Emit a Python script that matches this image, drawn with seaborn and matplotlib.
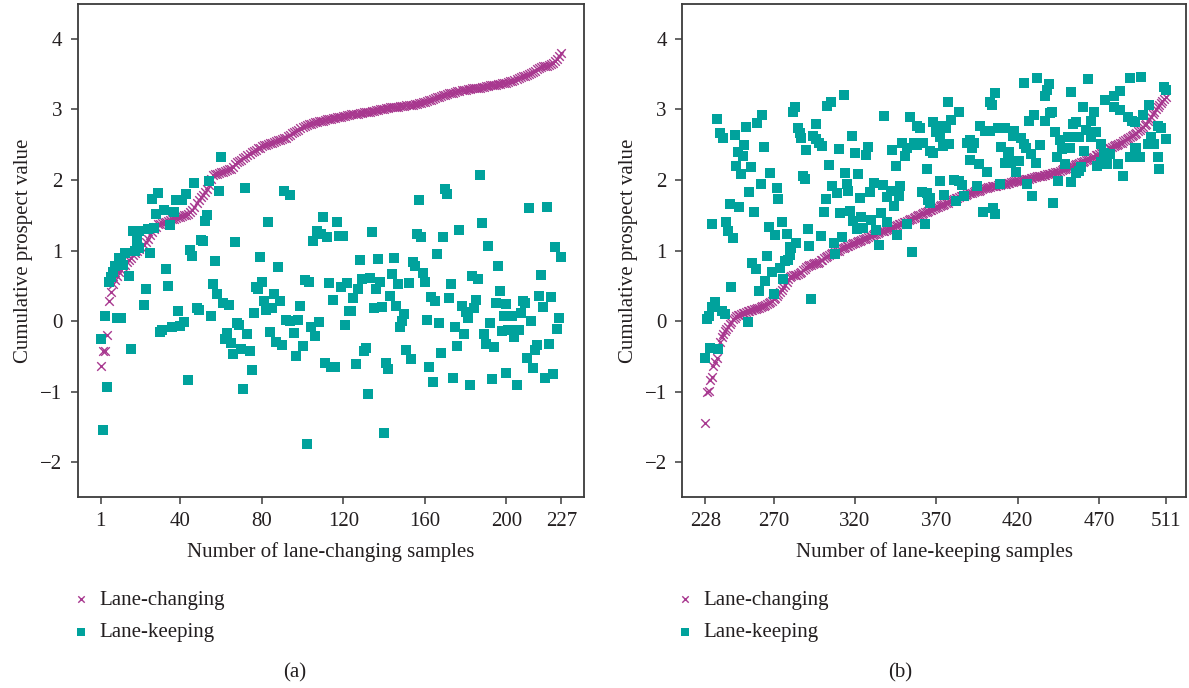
import numpy as np
import pandas as pd
import matplotlib
matplotlib.use("Agg")
import matplotlib.pyplot as plt
import seaborn as sns

sns.set_style("white")
plt.rcParams["font.family"] = ["Liberation Serif", "DejaVu Serif"]

# ---------------- data: panel (a) ----------------
lc_a = [
    -0.64, -0.43, -0.42, -0.20, 0.29, 0.41, 0.52, 0.58, 0.64, 0.69,
    0.73, 0.77, 0.80, 0.84, 0.87, 0.90, 0.93, 0.96, 0.99, 1.02,
    1.05, 1.08, 1.12, 1.17, 1.22, 1.26, 1.30, 1.34, 1.37, 1.38,
    1.39, 1.40, 1.41, 1.42, 1.43, 1.44, 1.45, 1.46, 1.47, 1.48,
    1.49, 1.50, 1.51, 1.52, 1.55, 1.58, 1.62, 1.67, 1.72, 1.76,
    1.79, 1.83, 1.87, 1.93, 2.02, 2.07, 2.08, 2.09, 2.10, 2.11,
    2.12, 2.13, 2.14, 2.15, 2.16, 2.18, 2.22, 2.25, 2.27, 2.29,
    2.31, 2.33, 2.35, 2.37, 2.39, 2.41, 2.43, 2.45, 2.46, 2.48,
    2.49, 2.50, 2.51, 2.52, 2.53, 2.54, 2.55, 2.56, 2.57, 2.58,
    2.59, 2.60, 2.62, 2.64, 2.66, 2.68, 2.70, 2.71, 2.73, 2.75,
    2.77, 2.78, 2.79, 2.80, 2.81, 2.82, 2.82, 2.83, 2.84, 2.84,
    2.85, 2.86, 2.86, 2.87, 2.88, 2.88, 2.89, 2.90, 2.90, 2.91,
    2.91, 2.92, 2.92, 2.93, 2.93, 2.94, 2.94, 2.95, 2.95, 2.96,
    2.96, 2.97, 2.97, 2.98, 2.98, 2.99, 2.99, 3.00, 3.01, 3.01,
    3.02, 3.02, 3.03, 3.03, 3.04, 3.04, 3.04, 3.05, 3.05, 3.05,
    3.06, 3.06, 3.07, 3.07, 3.08, 3.08, 3.09, 3.09, 3.10, 3.11,
    3.12, 3.13, 3.14, 3.15, 3.16, 3.17, 3.18, 3.19, 3.20, 3.21,
    3.22, 3.23, 3.24, 3.24, 3.25, 3.26, 3.26, 3.27, 3.28, 3.28,
    3.29, 3.29, 3.30, 3.30, 3.30, 3.31, 3.31, 3.32, 3.32, 3.33,
    3.33, 3.34, 3.34, 3.35, 3.35, 3.36, 3.36, 3.37, 3.38, 3.38,
    3.39, 3.40, 3.41, 3.42, 3.43, 3.45, 3.46, 3.47, 3.48, 3.49,
    3.50, 3.52, 3.53, 3.55, 3.57, 3.59, 3.60, 3.61, 3.61, 3.62,
    3.63, 3.64, 3.66, 3.69, 3.72, 3.76, 3.80,
]

lk_a_x = [
    1, 2, 3, 4, 5, 6, 7, 8, 9, 10, 11, 11, 12, 13, 15, 16, 17, 18, 19, 20,
    20, 22, 23, 24, 25, 26, 27, 28, 29, 30, 31, 32, 33, 34, 35, 36, 37, 38, 39, 40,
    41, 42, 43, 44, 45, 46, 47, 48, 49, 50, 51, 52, 53, 54, 55, 56, 57, 58, 59, 60,
    61, 62, 63, 64, 65, 66, 67, 68, 69, 70, 71, 72, 73, 74, 75, 76, 77, 78, 79, 80,
    81, 82, 83, 84, 85, 86, 87, 88, 89, 90, 91, 92, 94, 94, 96, 97, 98, 99, 100, 101,
    102, 103, 104, 105, 106, 107, 108, 109, 110, 111, 112, 113, 114, 115, 116, 117, 118, 119, 120, 121,
    122, 123, 124, 125, 126, 127, 128, 129, 130, 131, 132, 133, 134, 135, 136, 137, 138, 139, 140, 141,
    142, 143, 144, 145, 146, 147, 148, 149, 150, 151, 152, 153, 154, 155, 156, 157, 158, 159, 160, 161,
    162, 163, 164, 165, 166, 167, 168, 169, 170, 171, 172, 173, 174, 175, 176, 177, 178, 179, 180, 181,
    182, 183, 184, 185, 186, 187, 188, 189, 190, 191, 192, 193, 194, 195, 196, 197, 198, 199, 200, 200,
    201, 202, 203, 204, 205, 206, 207, 208, 209, 210, 211, 212, 213, 214, 215, 216, 217, 218, 219, 220,
    221, 222, 223, 224, 225, 226, 227,
]
lk_a_y = [
    -0.26, -1.55, 0.07, -0.93, 0.56, 0.63, 0.70, 0.78, 0.04, 0.89, 0.82, 0.05, 0.79, 0.96, 0.64, -0.40, 1.27, 0.99, 1.14, 1.27,
    1.03, 0.23, 0.46, 1.30, 0.96, 1.73, 1.32, 1.52, 1.82, -0.16, -0.12, 1.57, 0.74, 0.50, 1.36, -0.09, 1.54, 1.71, 0.14, -0.07,
    1.71, -0.01, 1.80, -0.84, 1.01, 0.92, 1.96, 0.19, 0.16, 1.15, 1.13, 1.42, 1.50, 1.99, 0.07, 0.52, 0.85, 0.39, 1.85, 2.32,
    0.26, -0.25, -0.17, 0.23, -0.31, -0.47, 1.12, -0.03, -0.05, -0.39, -0.97, 1.89, -0.18, -0.43, -0.70, 0.12, 0.48, 0.45, 0.91, 0.56,
    0.29, 0.15, 1.40, -0.15, 0.18, 0.38, -0.30, 0.77, 0.28, -0.34, 1.85, 0.02, 1.79, 0.00, -0.17, -0.50, 0.02, 0.21, -0.35, 0.58,
    -1.74, 0.56, -0.08, 1.14, -0.21, 1.28, -0.02, 1.24, 1.48, -0.60, 1.19, 0.54, -0.65, 0.30, -0.65, 1.41, 1.20, 0.48, 1.21, -0.05,
    0.54, 0.14, 0.14, 0.32, -0.61, 0.45, 0.86, 0.60, -0.42, -0.38, -1.03, 0.61, 1.26, 0.18, 0.46, 0.88, 0.56, 0.20, -1.58, -0.59,
    -0.68, 0.35, 0.67, 0.90, 0.22, 0.53, -0.08, 0.00, 0.10, -0.41, 0.54, -0.54, 0.84, 0.78, 1.23, 1.72, 1.19, 0.68, 0.56, 0.02,
    -0.65, 0.34, -0.87, 0.29, 0.95, -0.03, -0.45, 1.19, 1.87, 1.80, 0.32, 0.53, -0.81, -0.09, -0.35, 1.29, 0.21, -0.19, 0.13, 0.05,
    -0.91, 0.64, 0.18, 0.30, 0.60, 2.07, 1.39, -0.18, -0.33, 1.07, -0.03, -0.82, -0.37, 0.25, 0.78, 0.43, -0.14, 0.07, 0.24, -0.74,
    -0.13, -0.12, 0.07, -0.22, -0.90, -0.12, 0.11, 0.29, 0.25, -0.53, 1.60, 0.00, -0.66, -0.41, -0.34, 0.36, 0.66, 0.20, -0.81, 1.61,
    -0.32, 0.34, -0.75, 1.05, -0.11, 0.05, 0.91,
]

# ---------------- data: panel (b) ----------------
lc_b = [
    -1.44, -1.00, -0.99, -0.84, -0.80, -0.64, -0.58, -0.52, -0.40, -0.30,
    -0.23, -0.18, -0.14, -0.11, -0.08, -0.04, -0.01, 0.03, 0.05, 0.07,
    0.08, 0.09, 0.10, 0.11, 0.12, 0.13, 0.14, 0.14, 0.15, 0.16,
    0.17, 0.17, 0.18, 0.19, 0.20, 0.21, 0.22, 0.23, 0.24, 0.26,
    0.27, 0.29, 0.31, 0.32, 0.35, 0.38, 0.41, 0.44, 0.48, 0.51,
    0.55, 0.59, 0.63, 0.64, 0.65, 0.66, 0.66, 0.67, 0.68, 0.70,
    0.72, 0.74, 0.77, 0.78, 0.79, 0.80, 0.81, 0.82, 0.83, 0.83,
    0.84, 0.86, 0.87, 0.89, 0.91, 0.92, 0.94, 0.95, 0.96, 0.97,
    0.98, 0.99, 1.00, 1.02, 1.03, 1.04, 1.05, 1.06, 1.07, 1.08,
    1.09, 1.10, 1.11, 1.12, 1.13, 1.14, 1.15, 1.16, 1.17, 1.18,
    1.19, 1.20, 1.21, 1.22, 1.23, 1.24, 1.25, 1.26, 1.27, 1.28,
    1.28, 1.29, 1.30, 1.31, 1.32, 1.33, 1.34, 1.35, 1.36, 1.37,
    1.38, 1.39, 1.40, 1.41, 1.42, 1.43, 1.44, 1.45, 1.46, 1.48,
    1.49, 1.50, 1.51, 1.52, 1.53, 1.54, 1.55, 1.56, 1.57, 1.58,
    1.59, 1.60, 1.61, 1.62, 1.63, 1.64, 1.65, 1.66, 1.67, 1.68,
    1.70, 1.71, 1.72, 1.73, 1.74, 1.75, 1.76, 1.77, 1.78, 1.78,
    1.79, 1.80, 1.81, 1.82, 1.82, 1.83, 1.84, 1.85, 1.85, 1.86,
    1.87, 1.88, 1.89, 1.89, 1.90, 1.90, 1.91, 1.91, 1.92, 1.92,
    1.93, 1.93, 1.94, 1.94, 1.95, 1.95, 1.96, 1.96, 1.97, 1.97,
    1.98, 1.98, 1.99, 1.99, 2.00, 2.00, 2.01, 2.01, 2.02, 2.02,
    2.03, 2.03, 2.04, 2.04, 2.05, 2.05, 2.06, 2.06, 2.07, 2.07,
    2.08, 2.09, 2.09, 2.10, 2.10, 2.11, 2.12, 2.12, 2.13, 2.14,
    2.15, 2.16, 2.17, 2.18, 2.19, 2.19, 2.20, 2.21, 2.22, 2.23,
    2.24, 2.25, 2.26, 2.27, 2.28, 2.29, 2.30, 2.31, 2.32, 2.33,
    2.35, 2.36, 2.37, 2.38, 2.39, 2.40, 2.42, 2.43, 2.45, 2.46,
    2.47, 2.48, 2.49, 2.50, 2.51, 2.52, 2.53, 2.55, 2.56, 2.58,
    2.59, 2.61, 2.62, 2.64, 2.65, 2.67, 2.69, 2.71, 2.73, 2.75,
    2.78, 2.80, 2.83, 2.86, 2.89, 2.93, 2.96, 3.00, 3.03, 3.06,
    3.09, 3.12, 3.15, 3.18,
]

lk_b_x = [
    235, 237, 239, 246, 253, 260, 263, 248, 251, 252, 264, 247, 250, 256, 268, 262, 255, 272, 273, 243,
    249, 258, 232, 241, 242, 245, 267, 271, 275, 278, 280, 284, 291, 292, 299, 307, 312, 282, 283, 285,
    286, 287, 294, 296, 298, 300, 296, 290, 288, 289, 303, 305, 313, 318, 310, 320, 327, 328, 304, 314,
    322, 306, 309, 315, 316, 302, 301, 311, 317, 323, 329, 332, 337, 340, 342, 347, 348, 344, 319, 324,
    330, 321, 325, 336, 340, 333, 346, 335, 338, 343, 345, 349, 352, 354, 358, 360, 356, 358, 362, 351,
    364, 361, 364, 365, 352, 363, 355, 366,
    257, 259, 266, 265, 261, 269, 274, 276, 277, 279, 280, 281, 270, 244, 234, 232, 230, 229, 238, 240,
    254, 231, 236, 228, 293, 308,
    368, 370, 372, 374, 376, 377, 379, 384, 368, 374, 378, 372, 381, 384, 386, 366, 366, 375, 387, 382,
    391, 396, 401, 395, 397, 400, 403, 389, 391, 393, 392, 403, 404, 406, 408, 412, 410, 415, 414, 412,
    418, 417, 422, 424, 425, 420, 421, 419, 416, 409, 426, 424, 432, 439, 438, 437, 428, 431, 427, 430,
    434, 437, 440, 441, 443, 446, 448, 451, 452, 447, 444, 449, 445, 453, 429, 442, 399, 405, 406, 454,
    456, 453, 463, 460, 467, 465, 462, 465, 468, 457, 458, 461, 459, 458, 456, 471, 473, 474, 477, 475,
    469, 471, 482, 485, 474, 479, 483, 479, 483, 488, 490, 492, 489, 496, 501, 497, 492, 493, 495, 489,
    500, 502, 504, 506, 508, 506, 511, 507, 510, 511,
]
lk_b_y = [
    2.86, 2.67, 2.59, 2.64, 2.75, 2.81, 2.92, 2.40, 2.34, 2.50, 2.47, 2.20, 2.08, 2.19, 2.10, 1.95, 1.83, 1.89, 1.73, 1.66,
    1.62, 1.54, 1.37, 1.41, 1.27, 1.18, 1.34, 1.22, 1.41, 1.24, 1.05, 1.11, 1.31, 1.07, 1.20, 1.11, 1.19, 2.97, 3.04, 2.74,
    2.66, 2.60, 2.62, 2.58, 2.52, 2.48, 2.79, 2.43, 2.05, 2.01, 3.05, 3.11, 3.21, 2.63, 2.44, 2.38, 2.35, 2.47, 2.21, 2.10,
    2.09, 1.92, 1.81, 1.95, 1.85, 1.73, 1.55, 1.53, 1.56, 1.75, 1.83, 1.96, 1.93, 1.76, 1.85, 1.78, 1.92, 1.63, 1.42, 1.48,
    1.43, 1.30, 1.32, 1.53, 1.41, 1.29, 1.22, 1.08, 2.91, 2.42, 2.20, 2.53, 2.46, 2.90, 2.76, 2.74, 2.53, 2.50, 2.53, 2.34,
    2.15, 1.83, 1.82, 1.72, 1.37, 1.37, 0.98, 2.41,
    0.83, 0.74, 0.92, 0.57, 0.43, 0.70, 0.75, 0.60, 0.85, 0.87, 0.94, 1.03, 0.39, 0.49, 0.27, 0.20, 0.07, 0.03, 0.14, 0.10,
    -0.01, -0.38, -0.40, -0.52, 0.31, 0.95,
    2.82, 2.68, 2.61, 2.77, 2.73, 3.10, 2.85, 2.97, 2.38, 2.48, 2.51, 1.99, 2.00, 1.99, 1.93, 1.75, 1.68, 1.79, 1.78, 1.70,
    2.28, 2.23, 2.11, 1.92, 2.76, 2.69, 2.70, 2.53, 2.56, 2.52, 2.46, 3.10, 3.07, 3.24, 2.73, 2.73, 2.47, 2.39, 2.32, 2.24,
    2.70, 2.62, 2.60, 2.51, 2.46, 2.27, 2.27, 2.11, 2.24, 1.94, 1.94, 3.37, 3.44, 3.36, 3.27, 3.19, 2.37, 2.24, 2.83, 2.92,
    2.49, 2.83, 2.95, 2.96, 2.68, 2.56, 2.46, 2.61, 2.46, 2.44, 2.32, 2.22, 1.99, 1.97, 1.78, 1.68, 1.55, 1.60, 1.52, 2.80,
    2.82, 3.25, 3.43, 3.03, 2.96, 2.83, 2.71, 2.61, 2.68, 2.61, 2.61, 2.41, 2.18, 2.13, 2.10, 2.51, 2.38, 2.33, 2.37, 2.23,
    2.20, 2.25, 2.23, 2.05, 3.13, 3.19, 3.26, 3.03, 2.99, 2.89, 2.84, 2.82, 3.44, 3.46, 3.07, 2.92, 2.46, 2.45, 2.33, 2.33,
    2.51, 2.61, 2.51, 2.76, 2.73, 2.32, 2.58, 2.15, 3.32, 3.27,
]

ticks_a = [1, 40, 80, 120, 160, 200, 227]
ticks_b = [228, 270, 320, 370, 420, 470, 511]
yticks = [-2, -1, 0, 1, 2, 3, 4]
xlabel_a = "Number of lane-changing samples"
xlabel_b = "Number of lane-keeping samples"
ylabel = "Cumulative prospect value"
series_names = ["Lane-changing", "Lane-keeping"]
panel_tags = ["(a)", "(b)"]

# ---------------- styling ----------------
MAG = "#a8388f"
TEAL = "#00a29c"
TXT = "#231f20"
SPINE = "#3c3c3c"
FS = 15

W, H = 1189, 688
fig = plt.figure(figsize=(W / 100, H / 100), dpi=100)


def ax_rect(l, r, t, b):
    return [l / W, 1 - b / H, (r - l) / W, (b - t) / H]


ax_a = fig.add_axes(ax_rect(77.7, 584, 4, 496.7))
ax_b = fig.add_axes(ax_rect(682, 1186, 4, 496.7))

panels = [
    (ax_a, np.arange(1, len(lc_a) + 1), lc_a, lk_a_x, lk_a_y, ticks_a, xlabel_a, (-10.3, 238.1), 71.0, 294.7, panel_tags[0]),
    (ax_b, np.arange(228, 228 + len(lc_b)), lc_b, lk_b_x, lk_b_y, ticks_b, xlabel_b, (213.7, 523.5), 675.0, 899.8, panel_tags[1]),
]

for ax, xc, yc, xk, yk, xt, xl, xlim, leg_x, tag_x, tag in panels:
    sns.scatterplot(x=xc, y=yc, ax=ax, marker="x", color=MAG, s=38,
                    linewidth=1.0, label=series_names[0], zorder=3)
    sns.scatterplot(x=xk, y=yk, ax=ax, marker="s", color=TEAL, s=46,
                    linewidth=0, label=series_names[1], zorder=4)
    ax.set_xlim(*xlim)
    ax.set_ylim(-2.49, 4.495)
    ax.set_xticks(xt)
    ax.set_yticks(yticks)
    ax.set_yticklabels([str(v).replace("-", "\u2212") for v in yticks])
    ax.tick_params(axis="both", which="both", bottom=True, left=True, top=False, right=False,
                   direction="out", length=5, width=1.1, color=SPINE,
                   labelsize=FS, labelcolor=TXT, pad=6)
    ax.set_xlabel(xl, fontsize=FS, color=TXT, labelpad=8)
    ax.set_ylabel(ylabel, fontsize=FS, color=TXT, labelpad=5)
    for sp in ax.spines.values():
        sp.set_color(SPINE)
        sp.set_linewidth(1.3)
    ax.grid(False)
    handles, labels = ax.get_legend_handles_labels()
    ax.legend(handles, labels, loc="upper left",
              bbox_to_anchor=(leg_x / W, 1 - 590 / H), bbox_transform=fig.transFigure,
              frameon=False, fontsize=FS, handlelength=1.0, handletextpad=0.35,
              labelspacing=0.62, borderpad=0, borderaxespad=0, markerscale=0.75,
              labelcolor=TXT)
    fig.text(tag_x / W, 1 - 672.7 / H, tag, ha="center", va="center", fontsize=FS, color=TXT)

fig.savefig("out.png", dpi=100, facecolor="white")
